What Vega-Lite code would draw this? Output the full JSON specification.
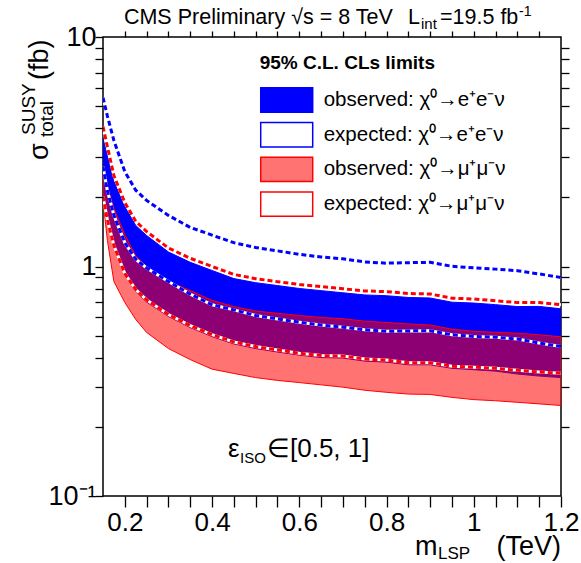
{
  "$schema": "https://vega.github.io/schema/vega-lite/v6.json",
  "width": 458,
  "height": 459,
  "padding": {"left": 103, "top": 37, "right": 20, "bottom": 67},
  "autosize": {"type": "none"},
  "background": "white",
  "config": {
    "view": {"stroke": "black", "strokeWidth": 1.5},
    "font": "Liberation Sans",
    "legend": {
      "orient": "none",
      "legendX": 156.7,
      "legendY": 17,
      "padding": 0,
      "titleFont": "Liberation Sans",
      "titleFontSize": 19,
      "titleFontWeight": "bold",
      "titleColor": "black",
      "titlePadding": 12,
      "titleLimit": 600,
      "labelFont": "Liberation Sans",
      "labelFontSize": 20.5,
      "labelColor": "black",
      "labelOffset": 10,
      "labelLimit": 0,
      "symbolType": "M-1,-0.47H1V0.47H-1Z",
      "symbolSize": 2704,
      "symbolStrokeWidth": 1.5,
      "clipHeight": 30,
      "rowPadding": 4.7
    }
  },
  "resolve": {"axis": {"x": "independent", "y": "independent"}},
  "datasets": {
    "limits": [
      {"x":0.15,"series":"eobs","lo":1.98,"hi":3.61},{"x":0.16,"series":"eobs","lo":1.57,"hi":3.05},{"x":0.175,"series":"eobs","lo":1.21,"hi":2.35},{"x":0.2,"series":"eobs","lo":0.913,"hi":1.83},{"x":0.225,"series":"eobs","lo":0.778,"hi":1.51},{"x":0.25,"series":"eobs","lo":0.70,"hi":1.365},{"x":0.3,"series":"eobs","lo":0.606,"hi":1.157},{"x":0.35,"series":"eobs","lo":0.542,"hi":1.043},{"x":0.4,"series":"eobs","lo":0.495,"hi":0.961},{"x":0.45,"series":"eobs","lo":0.46,"hi":0.886},{"x":0.5,"series":"eobs","lo":0.439,"hi":0.85},{"x":0.55,"series":"eobs","lo":0.424,"hi":0.826},{"x":0.6,"series":"eobs","lo":0.411,"hi":0.802},{"x":0.65,"series":"eobs","lo":0.401,"hi":0.785},{"x":0.7,"series":"eobs","lo":0.399,"hi":0.768},{"x":0.75,"series":"eobs","lo":0.387,"hi":0.752},{"x":0.8,"series":"eobs","lo":0.383,"hi":0.746},{"x":0.85,"series":"eobs","lo":0.373,"hi":0.733},{"x":0.9,"series":"eobs","lo":0.373,"hi":0.729},{"x":0.95,"series":"eobs","lo":0.36,"hi":0.699},{"x":1.0,"series":"eobs","lo":0.355,"hi":0.693},{"x":1.05,"series":"eobs","lo":0.35,"hi":0.682},{"x":1.1,"series":"eobs","lo":0.34,"hi":0.669},{"x":1.15,"series":"eobs","lo":0.333,"hi":0.67},{"x":1.2,"series":"eobs","lo":0.328,"hi":0.654},
      {"x":0.15,"series":"eexp","lo":2.73,"hi":5.45},{"x":0.16,"series":"eexp","lo":2.14,"hi":4.53},{"x":0.175,"series":"eexp","lo":1.67,"hi":3.54},{"x":0.2,"series":"eexp","lo":1.27,"hi":2.59},{"x":0.225,"series":"eexp","lo":1.076,"hi":2.15},{"x":0.25,"series":"eexp","lo":0.985,"hi":1.94},{"x":0.3,"series":"eexp","lo":0.86,"hi":1.67},{"x":0.35,"series":"eexp","lo":0.758,"hi":1.48},{"x":0.4,"series":"eexp","lo":0.681,"hi":1.37},{"x":0.45,"series":"eexp","lo":0.647,"hi":1.27},{"x":0.5,"series":"eexp","lo":0.612,"hi":1.21},{"x":0.55,"series":"eexp","lo":0.591,"hi":1.17},{"x":0.6,"series":"eexp","lo":0.572,"hi":1.13},{"x":0.65,"series":"eexp","lo":0.556,"hi":1.1},{"x":0.7,"series":"eexp","lo":0.544,"hi":1.08},{"x":0.75,"series":"eexp","lo":0.53,"hi":1.047},{"x":0.8,"series":"eexp","lo":0.522,"hi":1.034},{"x":0.85,"series":"eexp","lo":0.524,"hi":1.039},{"x":0.9,"series":"eexp","lo":0.525,"hi":1.043},{"x":0.95,"series":"eexp","lo":0.504,"hi":1.002},{"x":1.0,"series":"eexp","lo":0.496,"hi":0.987},{"x":1.05,"series":"eexp","lo":0.492,"hi":0.974},{"x":1.1,"series":"eexp","lo":0.483,"hi":0.959},{"x":1.15,"series":"eexp","lo":0.464,"hi":0.928},{"x":1.2,"series":"eexp","lo":0.448,"hi":0.896},
      {"x":0.15,"series":"mobs","lo":1.94,"hi":2.62},{"x":0.16,"series":"mobs","lo":1.3,"hi":2.23},{"x":0.175,"series":"mobs","lo":0.86,"hi":1.79},{"x":0.2,"series":"mobs","lo":0.697,"hi":1.379},{"x":0.225,"series":"mobs","lo":0.588,"hi":1.111},{"x":0.25,"series":"mobs","lo":0.516,"hi":1.0},{"x":0.3,"series":"mobs","lo":0.439,"hi":0.86},{"x":0.35,"series":"mobs","lo":0.393,"hi":0.786},{"x":0.4,"series":"mobs","lo":0.357,"hi":0.712},{"x":0.45,"series":"mobs","lo":0.342,"hi":0.669},{"x":0.5,"series":"mobs","lo":0.328,"hi":0.64},{"x":0.55,"series":"mobs","lo":0.319,"hi":0.625},{"x":0.6,"series":"mobs","lo":0.312,"hi":0.612},{"x":0.65,"series":"mobs","lo":0.305,"hi":0.6},{"x":0.7,"series":"mobs","lo":0.298,"hi":0.592},{"x":0.75,"series":"mobs","lo":0.289,"hi":0.578},{"x":0.8,"series":"mobs","lo":0.283,"hi":0.57},{"x":0.85,"series":"mobs","lo":0.278,"hi":0.562},{"x":0.9,"series":"mobs","lo":0.277,"hi":0.556},{"x":0.95,"series":"mobs","lo":0.269,"hi":0.533},{"x":1.0,"series":"mobs","lo":0.263,"hi":0.522},{"x":1.05,"series":"mobs","lo":0.26,"hi":0.517},{"x":1.1,"series":"mobs","lo":0.256,"hi":0.512},{"x":1.15,"series":"mobs","lo":0.252,"hi":0.504},{"x":1.2,"series":"mobs","lo":0.248,"hi":0.494},
      {"x":0.15,"series":"mexp","lo":2.02,"hi":4.07},{"x":0.16,"series":"mexp","lo":1.6,"hi":3.33},{"x":0.175,"series":"mexp","lo":1.235,"hi":2.49},{"x":0.2,"series":"mexp","lo":0.932,"hi":1.9},{"x":0.225,"series":"mexp","lo":0.794,"hi":1.576},{"x":0.25,"series":"mexp","lo":0.715,"hi":1.42},{"x":0.3,"series":"mexp","lo":0.618,"hi":1.204},{"x":0.35,"series":"mexp","lo":0.553,"hi":1.086},{"x":0.4,"series":"mexp","lo":0.505,"hi":1.0},{"x":0.45,"series":"mexp","lo":0.469,"hi":0.923},{"x":0.5,"series":"mexp","lo":0.448,"hi":0.885},{"x":0.55,"series":"mexp","lo":0.433,"hi":0.859},{"x":0.6,"series":"mexp","lo":0.419,"hi":0.835},{"x":0.65,"series":"mexp","lo":0.409,"hi":0.817},{"x":0.7,"series":"mexp","lo":0.407,"hi":0.8},{"x":0.75,"series":"mexp","lo":0.395,"hi":0.783},{"x":0.8,"series":"mexp","lo":0.391,"hi":0.777},{"x":0.85,"series":"mexp","lo":0.381,"hi":0.763},{"x":0.9,"series":"mexp","lo":0.381,"hi":0.759},{"x":0.95,"series":"mexp","lo":0.368,"hi":0.728},{"x":1.0,"series":"mexp","lo":0.364,"hi":0.722},{"x":1.05,"series":"mexp","lo":0.36,"hi":0.709},{"x":1.1,"series":"mexp","lo":0.353,"hi":0.696},{"x":1.15,"series":"mexp","lo":0.347,"hi":0.697},{"x":1.2,"series":"mexp","lo":0.343,"hi":0.681}
    ]
  },
  "layer": [
    {
      "data": {"name": "limits"},
      "transform": [{"filter": "datum.series == 'eobs'"}],
      "mark": {"type": "area", "clip": true, "strokeWidth": 1, "opacity": 1},
      "encoding": {
        "x": {"field": "x", "type": "quantitative", "scale": {"domain": [0.15, 1.2], "nice": false, "zero": false},
          "axis": {"orient": "bottom", "title": null, "domain": false, "grid": false, "zindex": 1,
            "values": [0.2,0.25,0.3,0.35,0.4,0.45,0.5,0.55,0.6,0.65,0.7,0.75,0.8,0.85,0.9,0.95,1,1.05,1.1,1.15,1.2],
            "format": "~g", "labelExpr": "indexof(['0.2','0.4','0.6','0.8','1','1.2'], datum.label) >= 0 ? datum.label : ''",
            "labelFont": "Liberation Sans", "labelFontSize": 26, "labelColor": "black", "labelPadding": 2, "labelOverlap": false, "labelFlush": false,
            "tickSize": 11, "tickColor": "black", "tickWidth": 1.3,
            "encode": {"ticks": {"update": {"y2": {"signal": "indexof([0.2,0.4,0.6,0.8,1,1.2], datum.value) >= 0 ? -11 : -6"}}}}}},
        "y": {"field": "lo", "type": "quantitative", "scale": {"type": "log", "domain": [0.1, 10], "nice": false},
          "axis": {"orient": "left", "title": null, "domain": false, "grid": false, "zindex": 1,
            "values": [0.1,0.2,0.3,0.4,0.5,0.6,0.7,0.8,0.9,1,2,3,4,5,6,7,8,9,10],
            "labelExpr": "datum.value == 0.1 ? '10⁻¹' : datum.value == 1 ? '1' : datum.value == 10 ? '10' : ''",
            "labelFont": "Liberation Sans", "labelFontSize": 27, "labelColor": "black", "labelPadding": -1, "labelOverlap": false, "labelFlush": false,
            "tickSize": 8, "tickColor": "black", "tickWidth": 1.3,
            "encode": {"ticks": {"update": {"x2": {"signal": "indexof([0.1,1,10], datum.value) >= 0 ? 15 : 8"}}}}}},
        "y2": {"field": "hi"},
        "fill": {"field": "series", "type": "nominal", "title": "95% C.L. CLs limits",
          "scale": {"domain": ["eobs","eexp","mobs","mexp"], "range": ["#0000ff","rgba(255,255,255,0)","rgba(255,0,0,0.55)","rgba(255,255,255,0)"]},
          "legend": {"labelExpr": "datum.label == 'eobs' ? 'observed: χ⁰→e⁺e⁻ν' : datum.label == 'eexp' ? 'expected: χ⁰→e⁺e⁻ν' : datum.label == 'mobs' ? 'observed: χ⁰→μ⁺μ⁻ν' : 'expected: χ⁰→μ⁺μ⁻ν'",
            "encode": {"symbols": {"strokeDash": {"condition": {"test": "datum.value == 'eexp' || datum.value == 'mexp'", "value": [6, 3.5]}, "value": [1, 0]}, "strokeWidth": {"condition": {"test": "datum.value == 'eexp' || datum.value == 'mexp'", "value": 2.5}, "value": 1.2}}}}},
        "stroke": {"field": "series", "type": "nominal", "title": "95% C.L. CLs limits",
          "scale": {"domain": ["eobs","eexp","mobs","mexp"], "range": ["#0000ff","#0000ff","#ff0000","#ff0000"]},
          "legend": {"labelExpr": "datum.label == 'eobs' ? 'observed: χ⁰→e⁺e⁻ν' : datum.label == 'eexp' ? 'expected: χ⁰→e⁺e⁻ν' : datum.label == 'mobs' ? 'observed: χ⁰→μ⁺μ⁻ν' : 'expected: χ⁰→μ⁺μ⁻ν'",
            "encode": {"symbols": {"strokeDash": {"condition": {"test": "datum.value == 'eexp' || datum.value == 'mexp'", "value": [6, 3.5]}, "value": [1, 0]}, "strokeWidth": {"condition": {"test": "datum.value == 'eexp' || datum.value == 'mexp'", "value": 2.5}, "value": 1.2}}}}}
      }
    },
    {
      "data": {"name": "limits"},
      "transform": [{"filter": "datum.series == 'mobs'"}],
      "mark": {"type": "area", "clip": true, "strokeWidth": 1, "opacity": 1},
      "encoding": {
        "x": {"field": "x", "type": "quantitative", "scale": {"domain": [0.15, 1.2], "nice": false, "zero": false},
          "axis": {"orient": "top", "title": null, "domain": false, "grid": false, "labels": false, "zindex": 1,
            "values": [0.2,0.25,0.3,0.35,0.4,0.45,0.5,0.55,0.6,0.65,0.7,0.75,0.8,0.85,0.9,0.95,1,1.05,1.1,1.15],
            "tickSize": 6, "tickColor": "black", "tickWidth": 1.3,
            "encode": {"ticks": {"update": {"y2": {"signal": "indexof([0.2,0.4,0.6,0.8,1], datum.value) >= 0 ? 11 : 6"}}}}}},
        "y": {"field": "lo", "type": "quantitative", "scale": {"type": "log", "domain": [0.1, 10], "nice": false},
          "axis": {"orient": "right", "title": null, "domain": false, "grid": false, "labels": false, "zindex": 1,
            "values": [0.2,0.3,0.4,0.5,0.6,0.7,0.8,0.9,1,2,3,4,5,6,7,8,9],
            "tickSize": 8, "tickColor": "black", "tickWidth": 1.3,
            "encode": {"ticks": {"update": {"x2": {"signal": "indexof([0.1,1,10], datum.value) >= 0 ? -15 : -8"}}}}}},
        "y2": {"field": "hi"},
        "fill": {"field": "series", "type": "nominal", "title": "95% C.L. CLs limits"},
        "stroke": {"field": "series", "type": "nominal", "title": "95% C.L. CLs limits"}
      }
    },
    {
      "data": {"name": "limits"},
      "transform": [{"filter": "datum.series == 'eexp' || datum.series == 'mexp'"}, {"fold": ["lo", "hi"], "as": ["bound", "v"]}],
      "mark": {"type": "line", "clip": true, "stroke": "white", "strokeWidth": 3},
      "encoding": {
        "x": {"field": "x", "type": "quantitative", "axis": null},
        "y": {"field": "v", "type": "quantitative", "scale": {"type": "log", "domain": [0.1, 10], "nice": false}, "axis": null},
        "detail": [{"field": "series"}, {"field": "bound"}]
      }
    },
    {
      "data": {"name": "limits"},
      "transform": [{"filter": "datum.series == 'mexp'"}, {"fold": ["lo", "hi"], "as": ["bound", "v"]}],
      "mark": {"type": "line", "clip": true, "stroke": "#ff0000", "strokeWidth": 3, "strokeDash": [5, 3]},
      "encoding": {
        "x": {"field": "x", "type": "quantitative", "axis": null},
        "y": {"field": "v", "type": "quantitative", "scale": {"type": "log", "domain": [0.1, 10], "nice": false}, "axis": null},
        "detail": {"field": "bound"}
      }
    },
    {
      "data": {"name": "limits"},
      "transform": [{"filter": "datum.series == 'eexp'"}, {"fold": ["lo", "hi"], "as": ["bound", "v"]}],
      "mark": {"type": "line", "clip": true, "stroke": "#0000ff", "strokeWidth": 3, "strokeDash": [5, 3]},
      "encoding": {
        "x": {"field": "x", "type": "quantitative", "axis": null},
        "y": {"field": "v", "type": "quantitative", "scale": {"type": "log", "domain": [0.1, 10], "nice": false}, "axis": null},
        "detail": {"field": "bound"}
      }
    },
    {
      "data": {"values": [{}]},
      "mark": {"type": "text", "text": "CMS Preliminary  √s = 8 TeV", "font": "Liberation Sans", "fontSize": 21.5, "align": "left", "baseline": "alphabetic", "color": "black"},
      "encoding": {"x": {"datum": 0.198, "type": "quantitative", "axis": null}, "y": {"datum": 11.39, "type": "quantitative", "scale": {"type": "log", "domain": [0.1, 10], "nice": false}, "axis": null}}
    },
    {
      "data": {"values": [{}]},
      "mark": {"type": "text", "text": "L", "font": "Liberation Sans", "fontSize": 21.5, "align": "left", "baseline": "alphabetic", "color": "black"},
      "encoding": {"x": {"datum": 0.8492, "type": "quantitative", "axis": null}, "y": {"datum": 11.39, "type": "quantitative", "scale": {"type": "log", "domain": [0.1, 10], "nice": false}, "axis": null}}
    },
    {
      "data": {"values": [{}]},
      "mark": {"type": "text", "text": "int", "font": "Liberation Sans", "fontSize": 15, "align": "left", "baseline": "alphabetic", "color": "black"},
      "encoding": {"x": {"datum": 0.879, "type": "quantitative", "axis": null}, "y": {"datum": 10.84, "type": "quantitative", "scale": {"type": "log", "domain": [0.1, 10], "nice": false}, "axis": null}}
    },
    {
      "data": {"values": [{}]},
      "mark": {"type": "text", "text": "=19.5 fb", "font": "Liberation Sans", "fontSize": 21.5, "align": "left", "baseline": "alphabetic", "color": "black"},
      "encoding": {"x": {"datum": 0.9226, "type": "quantitative", "axis": null}, "y": {"datum": 11.39, "type": "quantitative", "scale": {"type": "log", "domain": [0.1, 10], "nice": false}, "axis": null}}
    },
    {
      "data": {"values": [{}]},
      "mark": {"type": "text", "text": "-1", "font": "Liberation Sans", "fontSize": 14, "align": "left", "baseline": "alphabetic", "color": "black"},
      "encoding": {"x": {"datum": 1.1037, "type": "quantitative", "axis": null}, "y": {"datum": 12.35, "type": "quantitative", "scale": {"type": "log", "domain": [0.1, 10], "nice": false}, "axis": null}}
    },
    {
      "data": {"values": [{}]},
      "mark": {"type": "text", "text": "σ", "font": "Liberation Sans", "fontSize": 27, "angle": 270, "align": "left", "baseline": "alphabetic", "color": "black"},
      "encoding": {"x": {"datum": 0.0239, "type": "quantitative", "axis": null}, "y": {"datum": 2.911, "type": "quantitative", "scale": {"type": "log", "domain": [0.1, 10], "nice": false}, "axis": null}}
    },
    {
      "data": {"values": [{}]},
      "mark": {"type": "text", "text": "SUSY", "font": "Liberation Sans", "fontSize": 19, "angle": 270, "align": "left", "baseline": "alphabetic", "color": "black"},
      "encoding": {"x": {"datum": -0.0059, "type": "quantitative", "axis": null}, "y": {"datum": 3.741, "type": "quantitative", "scale": {"type": "log", "domain": [0.1, 10], "nice": false}, "axis": null}}
    },
    {
      "data": {"values": [{}]},
      "mark": {"type": "text", "text": "total", "font": "Liberation Sans", "fontSize": 19, "angle": 270, "align": "left", "baseline": "alphabetic", "color": "black"},
      "encoding": {"x": {"datum": 0.0354, "type": "quantitative", "axis": null}, "y": {"datum": 3.667, "type": "quantitative", "scale": {"type": "log", "domain": [0.1, 10], "nice": false}, "axis": null}}
    },
    {
      "data": {"values": [{}]},
      "mark": {"type": "text", "text": "(fb)", "font": "Liberation Sans", "fontSize": 27, "angle": 270, "align": "left", "baseline": "alphabetic", "color": "black"},
      "encoding": {"x": {"datum": 0.0239, "type": "quantitative", "axis": null}, "y": {"datum": 6.495, "type": "quantitative", "scale": {"type": "log", "domain": [0.1, 10], "nice": false}, "axis": null}}
    },
    {
      "data": {"values": [{}]},
      "mark": {"type": "text", "text": "m", "font": "Liberation Sans", "fontSize": 27, "align": "left", "baseline": "alphabetic", "color": "black"},
      "encoding": {"x": {"datum": 0.8653, "type": "quantitative", "axis": null}, "y": {"datum": 0.05532, "type": "quantitative", "scale": {"type": "log", "domain": [0.1, 10], "nice": false}, "axis": null}}
    },
    {
      "data": {"values": [{}]},
      "mark": {"type": "text", "text": "LSP", "font": "Liberation Sans", "fontSize": 17, "align": "left", "baseline": "alphabetic", "color": "black"},
      "encoding": {"x": {"datum": 0.918, "type": "quantitative", "axis": null}, "y": {"datum": 0.0534, "type": "quantitative", "scale": {"type": "log", "domain": [0.1, 10], "nice": false}, "axis": null}}
    },
    {
      "data": {"values": [{}]},
      "mark": {"type": "text", "text": "(TeV)", "font": "Liberation Sans", "fontSize": 27, "align": "right", "baseline": "alphabetic", "color": "black"},
      "encoding": {"x": {"datum": 1.2, "type": "quantitative", "axis": null}, "y": {"datum": 0.05532, "type": "quantitative", "scale": {"type": "log", "domain": [0.1, 10], "nice": false}, "axis": null}}
    },
    {
      "data": {"values": [{}]},
      "mark": {"type": "text", "text": "ε", "font": "Liberation Sans", "fontSize": 26, "align": "left", "baseline": "alphabetic", "color": "black"},
      "encoding": {"x": {"datum": 0.4366, "type": "quantitative", "axis": null}, "y": {"datum": 0.1479, "type": "quantitative", "scale": {"type": "log", "domain": [0.1, 10], "nice": false}, "axis": null}}
    },
    {
      "data": {"values": [{}]},
      "mark": {"type": "text", "text": "ISO", "font": "Liberation Sans", "fontSize": 15, "align": "left", "baseline": "alphabetic", "color": "black"},
      "encoding": {"x": {"datum": 0.4641, "type": "quantitative", "axis": null}, "y": {"datum": 0.1392, "type": "quantitative", "scale": {"type": "log", "domain": [0.1, 10], "nice": false}, "axis": null}}
    },
    {
      "data": {"values": [{}]},
      "mark": {"type": "text", "text": "∈[0.5, 1]", "font": "Liberation Sans", "fontSize": 26, "align": "left", "baseline": "alphabetic", "color": "black"},
      "encoding": {"x": {"datum": 0.526, "type": "quantitative", "axis": null}, "y": {"datum": 0.1479, "type": "quantitative", "scale": {"type": "log", "domain": [0.1, 10], "nice": false}, "axis": null}}
    }
  ]
}
